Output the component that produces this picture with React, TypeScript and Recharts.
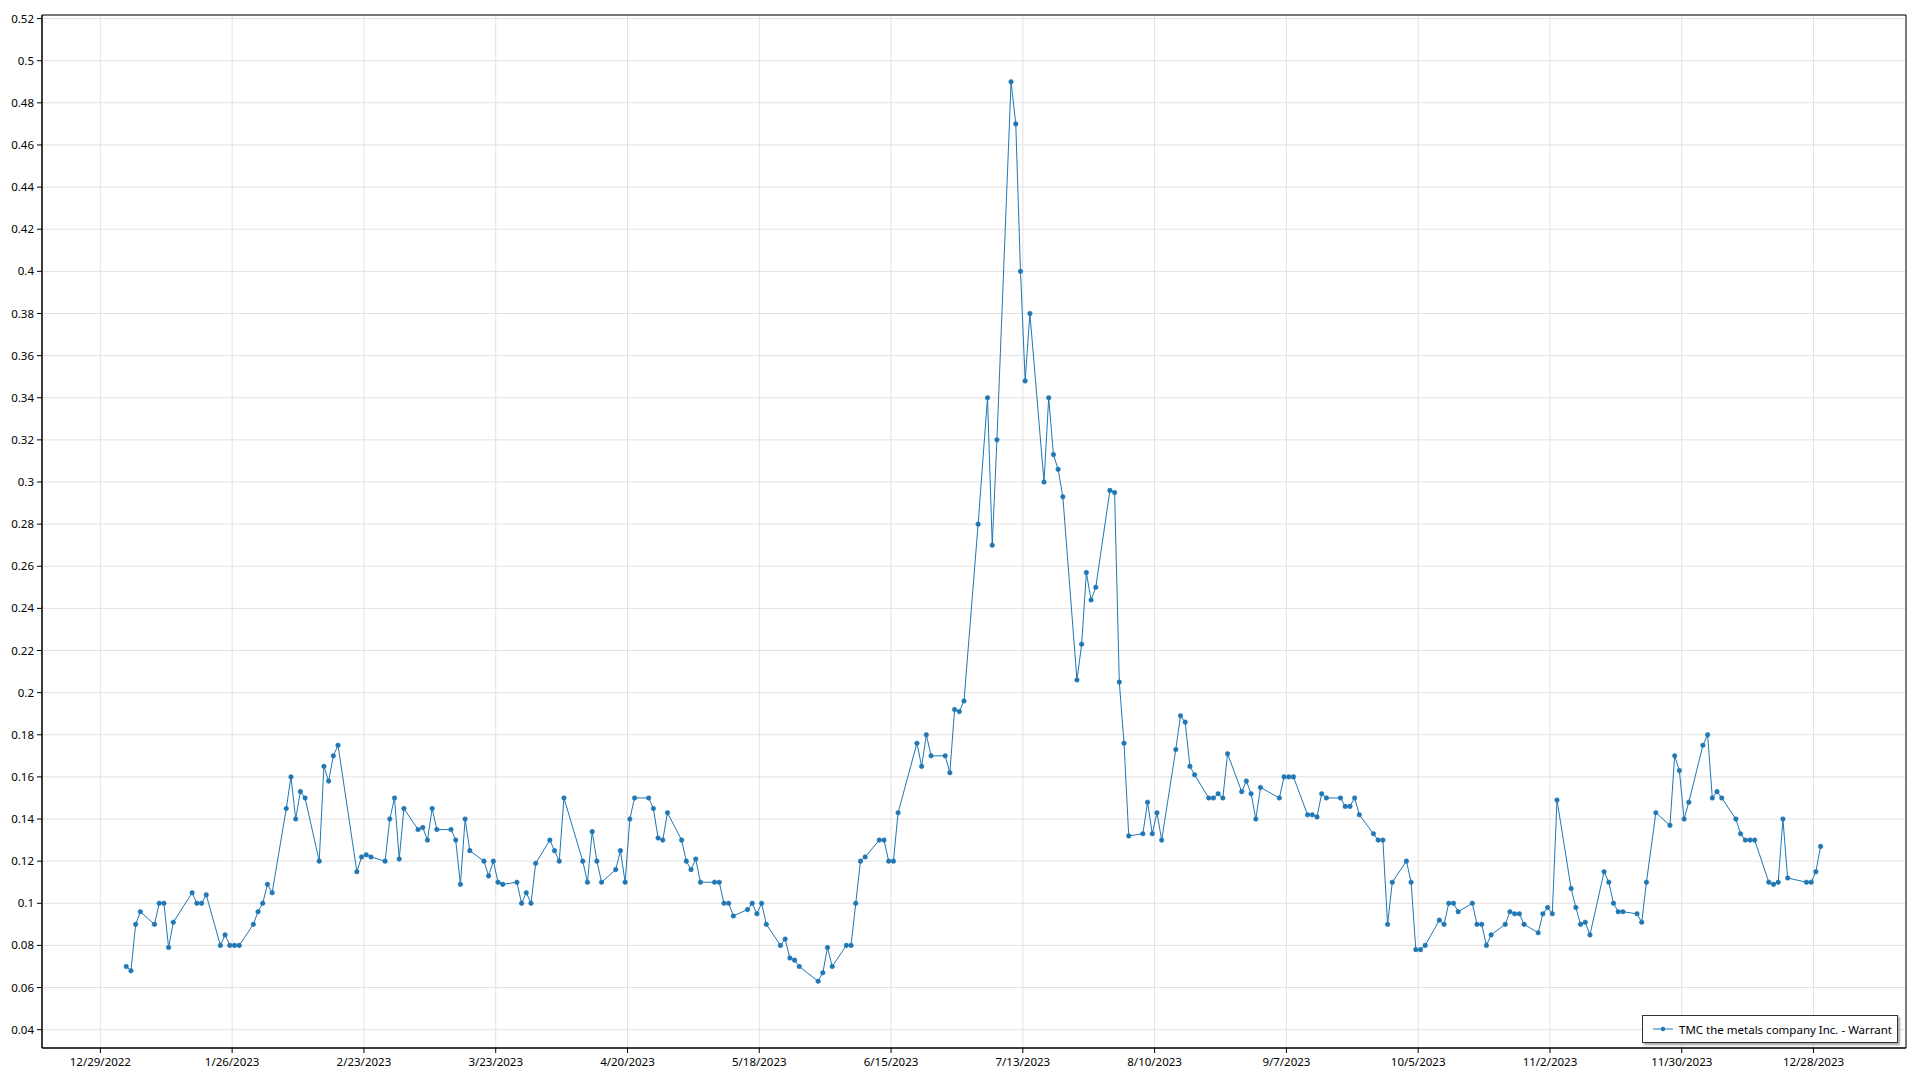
import { CartesianGrid, Legend, Line, LineChart, ReferenceArea, XAxis, YAxis } from "recharts";

// trading days of 2023 (closing prices of the warrant)
const tradeDates = [
  "2023-01-03", "2023-01-04", "2023-01-05", "2023-01-06", "2023-01-09", "2023-01-10", "2023-01-11", "2023-01-12", "2023-01-13",
  "2023-01-17", "2023-01-18", "2023-01-19", "2023-01-20", "2023-01-23", "2023-01-24", "2023-01-25", "2023-01-26", "2023-01-27",
  "2023-01-30", "2023-01-31",
  "2023-02-01", "2023-02-02", "2023-02-03", "2023-02-06", "2023-02-07", "2023-02-08", "2023-02-09", "2023-02-10", "2023-02-13",
  "2023-02-14", "2023-02-15", "2023-02-16", "2023-02-17", "2023-02-21", "2023-02-22", "2023-02-23", "2023-02-24", "2023-02-27",
  "2023-02-28",
  "2023-03-01", "2023-03-02", "2023-03-03", "2023-03-06", "2023-03-07", "2023-03-08", "2023-03-09", "2023-03-10", "2023-03-13",
  "2023-03-14", "2023-03-15", "2023-03-16", "2023-03-17", "2023-03-20", "2023-03-21", "2023-03-22", "2023-03-23", "2023-03-24",
  "2023-03-27", "2023-03-28", "2023-03-29", "2023-03-30", "2023-03-31",
  "2023-04-03", "2023-04-04", "2023-04-05", "2023-04-06", "2023-04-10", "2023-04-11", "2023-04-12", "2023-04-13", "2023-04-14",
  "2023-04-17", "2023-04-18", "2023-04-19", "2023-04-20", "2023-04-21", "2023-04-24", "2023-04-25", "2023-04-26", "2023-04-27",
  "2023-04-28",
  "2023-05-01", "2023-05-02", "2023-05-03", "2023-05-04", "2023-05-05", "2023-05-08", "2023-05-09", "2023-05-10", "2023-05-11",
  "2023-05-12", "2023-05-15", "2023-05-16", "2023-05-17", "2023-05-18", "2023-05-19", "2023-05-22", "2023-05-23", "2023-05-24",
  "2023-05-25", "2023-05-26", "2023-05-30", "2023-05-31",
  "2023-06-01", "2023-06-02", "2023-06-05", "2023-06-06", "2023-06-07", "2023-06-08", "2023-06-09", "2023-06-12", "2023-06-13",
  "2023-06-14", "2023-06-15", "2023-06-16", "2023-06-20", "2023-06-21", "2023-06-22", "2023-06-23", "2023-06-26", "2023-06-27",
  "2023-06-28", "2023-06-29", "2023-06-30",
  "2023-07-03", "2023-07-05", "2023-07-06", "2023-07-07", "2023-07-10", "2023-07-11", "2023-07-12", "2023-07-13", "2023-07-14",
  "2023-07-17", "2023-07-18", "2023-07-19", "2023-07-20", "2023-07-21", "2023-07-24", "2023-07-25", "2023-07-26", "2023-07-27",
  "2023-07-28", "2023-07-31",
  "2023-08-01", "2023-08-02", "2023-08-03", "2023-08-04", "2023-08-07", "2023-08-08", "2023-08-09", "2023-08-10", "2023-08-11",
  "2023-08-14", "2023-08-15", "2023-08-16", "2023-08-17", "2023-08-18", "2023-08-21", "2023-08-22", "2023-08-23", "2023-08-24",
  "2023-08-25", "2023-08-28", "2023-08-29", "2023-08-30", "2023-08-31",
  "2023-09-01", "2023-09-05", "2023-09-06", "2023-09-07", "2023-09-08", "2023-09-11", "2023-09-12", "2023-09-13", "2023-09-14",
  "2023-09-15", "2023-09-18", "2023-09-19", "2023-09-20", "2023-09-21", "2023-09-22", "2023-09-25", "2023-09-26", "2023-09-27",
  "2023-09-28", "2023-09-29",
  "2023-10-02", "2023-10-03", "2023-10-04", "2023-10-05", "2023-10-06", "2023-10-09", "2023-10-10", "2023-10-11", "2023-10-12",
  "2023-10-13", "2023-10-16", "2023-10-17", "2023-10-18", "2023-10-19", "2023-10-20", "2023-10-23", "2023-10-24", "2023-10-25",
  "2023-10-26", "2023-10-27", "2023-10-30", "2023-10-31",
  "2023-11-01", "2023-11-02", "2023-11-03", "2023-11-06", "2023-11-07", "2023-11-08", "2023-11-09", "2023-11-10", "2023-11-13",
  "2023-11-14", "2023-11-15", "2023-11-16", "2023-11-17", "2023-11-20", "2023-11-21", "2023-11-22", "2023-11-24", "2023-11-27",
  "2023-11-28", "2023-11-29", "2023-11-30",
  "2023-12-01", "2023-12-04", "2023-12-05", "2023-12-06", "2023-12-07", "2023-12-08", "2023-12-11", "2023-12-12", "2023-12-13",
  "2023-12-14", "2023-12-15", "2023-12-18", "2023-12-19", "2023-12-20", "2023-12-21", "2023-12-22", "2023-12-26", "2023-12-27",
  "2023-12-28", "2023-12-29",
];

const closePrices = [
  // Jan
  0.07, 0.068, 0.09, 0.096, 0.09, 0.1, 0.1, 0.079, 0.091, 0.105, 0.1, 0.1, 0.104, 0.08, 0.085, 0.08, 0.08, 0.08, 0.09, 0.096,
  // Feb
  0.1, 0.109, 0.105, 0.145, 0.16, 0.14, 0.153, 0.15, 0.12, 0.165, 0.158, 0.17, 0.175, 0.115, 0.122, 0.123, 0.122, 0.12, 0.14,
  // Mar
  0.15, 0.121, 0.145, 0.135, 0.136, 0.13, 0.145, 0.135, 0.135, 0.13, 0.109, 0.14, 0.125, 0.12, 0.113, 0.12, 0.11, 0.109,
  0.11, 0.1, 0.105, 0.1, 0.119,
  // Apr
  0.13, 0.125, 0.12, 0.15, 0.12, 0.11, 0.134, 0.12, 0.11, 0.116, 0.125, 0.11, 0.14, 0.15, 0.15, 0.145, 0.131, 0.13, 0.143,
  // May
  0.13, 0.12, 0.116, 0.121, 0.11, 0.11, 0.11, 0.1, 0.1, 0.094, 0.097, 0.1, 0.095, 0.1, 0.09, 0.08, 0.083, 0.074, 0.073, 0.07,
  0.063, 0.067,
  // Jun
  0.079, 0.07, 0.08, 0.08, 0.1, 0.12, 0.122, 0.13, 0.13, 0.12, 0.12, 0.143, 0.176, 0.165, 0.18, 0.17, 0.17, 0.162, 0.192,
  0.191, 0.196,
  // Jul
  0.28, 0.34, 0.27, 0.32, 0.49, 0.47, 0.4, 0.348, 0.38, 0.3, 0.34, 0.313, 0.306, 0.293, 0.206, 0.223, 0.257, 0.244, 0.25, 0.296,
  // Aug
  0.295, 0.205, 0.176, 0.132, 0.133, 0.148, 0.133, 0.143, 0.13, 0.173, 0.189, 0.186, 0.165, 0.161, 0.15, 0.15, 0.152, 0.15,
  0.171, 0.153, 0.158, 0.152, 0.14,
  // Sep
  0.155, 0.15, 0.16, 0.16, 0.16, 0.142, 0.142, 0.141, 0.152, 0.15, 0.15, 0.146, 0.146, 0.15, 0.142, 0.133, 0.13, 0.13, 0.09, 0.11,
  // Oct
  0.12, 0.11, 0.078, 0.078, 0.08, 0.092, 0.09, 0.1, 0.1, 0.096, 0.1, 0.09, 0.09, 0.08, 0.085, 0.09, 0.096, 0.095, 0.095, 0.09,
  0.086, 0.095,
  // Nov
  0.098, 0.095, 0.149, 0.107, 0.098, 0.09, 0.091, 0.085, 0.115, 0.11, 0.1, 0.096, 0.096, 0.095, 0.091, 0.11, 0.143, 0.137,
  0.17, 0.163, 0.14,
  // Dec
  0.148, 0.175, 0.18, 0.15, 0.153, 0.15, 0.14, 0.133, 0.13, 0.13, 0.13, 0.11, 0.109, 0.11, 0.14, 0.112, 0.11, 0.11, 0.115, 0.127,
];

const xTickLabels = [
  "12/29/2022", "1/26/2023", "2/23/2023", "3/23/2023", "4/20/2023", "5/18/2023", "6/15/2023",
  "7/13/2023", "8/10/2023", "9/7/2023", "10/5/2023", "11/2/2023", "11/30/2023", "12/28/2023",
];

const yTicks = [
  0.04, 0.06, 0.08, 0.1, 0.12, 0.14, 0.16, 0.18, 0.2, 0.22, 0.24, 0.26, 0.28, 0.3, 0.32,
  0.34, 0.36, 0.38, 0.4, 0.42, 0.44, 0.46, 0.48, 0.5, 0.52,
];

const seriesName = "TMC the metals company Inc. - Warrant";
const lineColor = "#1f77b4";

const DAY_MS = 86400000;
const ORIGIN = Date.UTC(2022, 11, 29);

const isoToDay = (s: string) => {
  const [y, m, d] = s.split("-").map(Number);
  return (Date.UTC(y, m - 1, d) - ORIGIN) / DAY_MS;
};
const labelToDay = (s: string) => {
  const [m, d, y] = s.split("/").map(Number);
  return (Date.UTC(y, m - 1, d) - ORIGIN) / DAY_MS;
};

// points sit at mid-session of their day
const data = tradeDates.map((d, i) => ({ x: isoToDay(d) + 0.5, price: closePrices[i] }));

const xTicks = xTickLabels.map(labelToDay);
const xLabelByDay: Record<number, string> = {};
xTickLabels.forEach((l, i) => (xLabelByDay[xTicks[i]] = l));

const xDomain = [-12.4, 383.65];
const yDomain = [0.0313, 0.5217];

const yMinorTicks: number[] = [];
for (let i = 8; i <= 130; i++) yMinorTicks.push(Math.round(i * 0.004 * 1000) / 1000);

const fmtY = (v: number) => String(parseFloat(v.toFixed(2)));

const FONT = "'Noto Sans', 'Open Sans', sans-serif";

function LegendBox() {
  return (
    <div
      style={{
        boxSizing: "border-box",
        width: 256,
        height: 28,
        border: "1px solid #333",
        background: "#fff",
        boxShadow: "2px 2px 2px rgba(0,0,0,0.35)",
        display: "flex",
        alignItems: "center",
        paddingLeft: 10,
        fontFamily: FONT,
        fontSize: 11.5,
        color: "#000",
        whiteSpace: "nowrap",
      }}
    >
      <svg width={20} height={10} style={{ flex: "none" }}>
        <line x1={0} y1={5} x2={20} y2={5} stroke={lineColor} strokeWidth={1} />
        <circle cx={10} cy={5} r={2.2} fill={lineColor} />
      </svg>
      <span style={{ marginLeft: 6 }}>{seriesName}</span>
    </div>
  );
}

export default function App() {
  return (
    <div style={{ position: "absolute", left: 0, top: 0, width: 1920, height: 1080, background: "#fff" }}>
      <LineChart
        width={1920}
        height={1080}
        data={data}
        margin={{ top: 15, right: 14, bottom: 0, left: 0 }}
        style={{ fontFamily: FONT }}
      >
        <CartesianGrid yAxisId="main" stroke="#e2e2e2" strokeWidth={1} horizontal vertical />
        <XAxis
          dataKey="x"
          type="number"
          domain={xDomain}
          ticks={xTicks}
          allowDataOverflow
          tickFormatter={(v: number) => xLabelByDay[v] ?? ""}
          height={32}
          tickSize={5}
          tickMargin={5}
          stroke="#000"
          tick={{ fill: "#000", fontSize: 11.5 }}
          interval={0}
        />
        <YAxis
          yAxisId="minor"
          type="number"
          domain={yDomain}
          ticks={yMinorTicks}
          allowDataOverflow
          width={0}
          tickSize={3}
          tick={() => null}
          axisLine={false}
          stroke="#000"
          interval={0}
        />
        <YAxis
          yAxisId="main"
          type="number"
          domain={yDomain}
          ticks={yTicks}
          allowDataOverflow
          tickFormatter={fmtY}
          width={42}
          tickSize={5}
          tickMargin={3}
          stroke="#000"
          tick={{ fill: "#000", fontSize: 11.5 }}
          interval={0}
        />
        <ReferenceArea
          yAxisId="main"
          x1={xDomain[0]}
          x2={xDomain[1]}
          y1={yDomain[0]}
          y2={yDomain[1]}
          fill="none"
          stroke="#000"
          strokeWidth={1}
          ifOverflow="visible"
        />
        <Line
          yAxisId="main"
          type="linear"
          dataKey="price"
          name={seriesName}
          stroke={lineColor}
          strokeWidth={1}
          dot={{ r: 2.3, fill: lineColor, stroke: lineColor, strokeWidth: 0.5 }}
          activeDot={false}
          isAnimationActive={false}
        />
        <Legend
          layout="vertical"
          align="center"
          verticalAlign="middle"
          content={() => <LegendBox />}
          wrapperStyle={{ left: 1642, top: 1015, bottom: "auto", right: "auto", width: 256, height: 28 }}
        />
      </LineChart>
    </div>
  );
}
